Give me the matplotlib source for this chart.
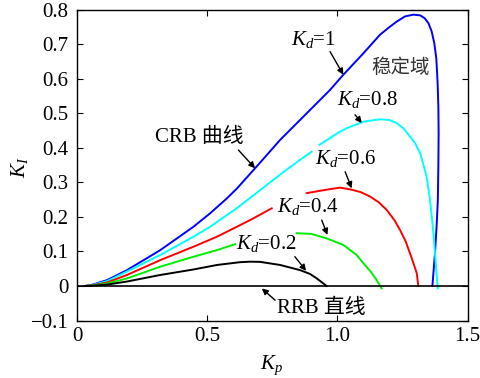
import numpy as np
import matplotlib
matplotlib.use("Agg")
import matplotlib.pyplot as plt

plt.rcParams["font.family"] = ["Liberation Serif", "Noto Sans CJK SC"]
plt.rcParams["mathtext.fontset"] = "custom"
plt.rcParams["mathtext.rm"] = "Liberation Serif"
plt.rcParams["mathtext.it"] = "Liberation Serif:italic"
plt.rcParams["axes.unicode_minus"] = True

NaN = np.nan

# Stability boundaries (CRB curves) for each Kd; NaN marks where a label sits on the curve
kd1_kp = [0.03, 0.06, 0.115, 0.192, 0.256, 0.32, 0.384, 0.448, 0.512, 0.576, 0.615, 0.69, 0.78,
          0.882, 0.972, 1.023, 1.10, 1.164, 1.20, 1.228, 1.26, 1.292, 1.318, 1.335, 1.35, 1.362,
          1.372, 1.38, 1.385, 1.388, 1.389, 1.388, 1.386, 1.381, 1.375, 1.365]
kd1_ki = [0.0, 0.004, 0.017, 0.046, 0.075, 0.104, 0.138, 0.172, 0.211, 0.254, 0.283, 0.346, 0.423,
          0.50, 0.568, 0.612, 0.674, 0.728, 0.750, 0.766, 0.781, 0.786, 0.784, 0.776, 0.761, 0.738,
          0.705, 0.66, 0.59, 0.52, 0.443, 0.35, 0.249, 0.17, 0.095, 0.0]

kd08_kp = [0.03, 0.06, 0.115, 0.192, 0.32, 0.448, 0.512, 0.588, 0.615, 0.716, 0.81, 0.901, NaN,
           0.931, 1.01, 1.036, 1.10, 1.164, 1.20, 1.228, 1.255, 1.279, 1.30, 1.318, 1.343, 1.356,
           1.369, 1.379, 1.386]
kd08_ki = [0.0, 0.003, 0.014, 0.042, 0.090, 0.143, 0.172, 0.212, 0.226, 0.285, 0.34, 0.389, NaN,
           0.409, 0.447, 0.457, 0.476, 0.483, 0.481, 0.472, 0.456, 0.433, 0.412, 0.385, 0.317, 0.249,
           0.153, 0.056, -0.007]

kd06_kp = [0.03, 0.06, 0.115, 0.192, 0.32, 0.448, 0.538, 0.615, 0.665, 0.748, NaN,
           0.882, 0.95, 1.01, 1.049, 1.09, 1.126, 1.16, 1.19, 1.22, 1.241, 1.262, 1.279, 1.295,
           1.305, 1.311]
kd06_ki = [0.0, 0.002, 0.010, 0.032, 0.075, 0.114, 0.143, 0.172, 0.191, 0.225, NaN,
           0.269, 0.278, 0.285, 0.280, 0.272, 0.259, 0.242, 0.220, 0.19, 0.162, 0.13, 0.095, 0.06,
           0.037, 0.0]

kd04_kp = [0.03, 0.06, 0.115, 0.192, 0.32, 0.448, 0.538, 0.607, NaN,
           0.844, 0.90, 0.959, 1.023, 1.074, 1.10, 1.128, 1.151, 1.17]
kd04_ki = [0.0, 0.001, 0.007, 0.022, 0.056, 0.085, 0.104, 0.121, NaN,
           0.153, 0.151, 0.138, 0.119, 0.090, 0.066, 0.042, 0.017, -0.007]

kd02_kp = [0.03, 0.06, 0.115, 0.192, 0.32, 0.448, 0.538, 0.626, 0.665, 0.703, 0.78, 0.857,
           0.895, 0.921, 0.959]
kd02_ki = [0.0, 0.001, 0.004, 0.013, 0.032, 0.048, 0.061, 0.069, 0.0705, 0.070, 0.061, 0.046,
           0.035, 0.022, 0.0]

x_ticks = [0, 0.5, 1.0, 1.5]
x_tick_labels = ["0", "0.5", "1.0", "1.5"]
y_ticks = [-0.1, 0, 0.1, 0.2, 0.3, 0.4, 0.5, 0.6, 0.7, 0.8]
y_tick_labels = ["\u22120.1", "0", "0.1", "0.2", "0.3", "0.4", "0.5", "0.6", "0.7", "0.8"]

fig = plt.figure(figsize=(4.81, 3.78), dpi=100)
ax = fig.add_axes([0.160, 0.152, 0.812, 0.822])

lw = 1.4
ax.plot(kd1_kp, kd1_ki, color="#0000ff", lw=lw)
ax.plot(kd08_kp, kd08_ki, color="#00ffff", lw=lw)
ax.plot(kd06_kp, kd06_ki, color="#ff0000", lw=lw)
ax.plot(kd04_kp, kd04_ki, color="#00ee00", lw=lw)
ax.plot(kd02_kp, kd02_ki, color="#000000", lw=lw)
# RRB line (Ki = 0)
ax.axhline(0, color="k", lw=1.2)

ax.set_xlim(0, 1.5)
ax.set_ylim(-0.1, 0.8)
ax.set_xticks(x_ticks)
ax.set_xticklabels(x_tick_labels)
ax.set_yticks(y_ticks)
ax.set_yticklabels(y_tick_labels)
ax.tick_params(direction="in", top=True, right=True, length=4, width=0.8,
               labelsize=15)
ax.tick_params(axis="x", pad=5)
ax.tick_params(axis="y", pad=6)
for s in ax.spines.values():
    s.set_linewidth(1.0)

ax.set_xlabel("$K_p$", fontsize=15)
ax.set_ylabel("$K_I$", fontsize=15)
ax.xaxis.set_label_coords(0.499, -0.105)
ax.yaxis.label.set_va("center")
ax.yaxis.set_label_coords(-0.146, 0.494)

fs = 15
arrow = dict(arrowstyle="-|>", color="k", lw=1.0, mutation_scale=9, shrinkA=0, shrinkB=0)

ax.annotate("", xy=(1.023, 0.612), xytext=(0.972, 0.679), arrowprops=arrow)
ax.text(0.907, 0.713, "$K_d$=1", fontsize=fs, ha="center", va="center")
ax.text(1.241, 0.632, "稳定域", fontsize=14, ha="center", va="center", color="#333333",
        family=["Noto Sans CJK SC"])
ax.annotate("", xy=(1.094, 0.472), xytext=(1.068, 0.496), arrowprops=arrow)
ax.text(1.114, 0.539, "$K_d$=0.8", fontsize=fs, ha="center", va="center")
ax.annotate("", xy=(0.684, 0.341), xytext=(0.62, 0.394), arrowprops=arrow)
ax.text(0.471, 0.429, "CRB 曲线", fontsize=fs, ha="center", va="center")
ax.annotate("", xy=(1.055, 0.283), xytext=(1.03, 0.331), arrowprops=arrow)
ax.text(1.03, 0.368, "$K_d$=0.6", fontsize=fs, ha="center", va="center")
ax.annotate("", xy=(0.962, 0.148), xytext=(0.94, 0.191), arrowprops=arrow)
ax.text(0.888, 0.229, "$K_d$=0.4", fontsize=fs, ha="center", va="center")
ax.annotate("", xy=(0.88, 0.044), xytext=(0.837, 0.085), arrowprops=arrow)
ax.text(0.729, 0.124, "$K_d$=0.2", fontsize=fs, ha="center", va="center")
ax.annotate("", xy=(0.71, -0.007), xytext=(0.761, -0.041), arrowprops=arrow)
ax.text(0.937, -0.064, "RRB 直线", fontsize=fs, ha="center", va="center")

fig.savefig("out.png", dpi=100)
